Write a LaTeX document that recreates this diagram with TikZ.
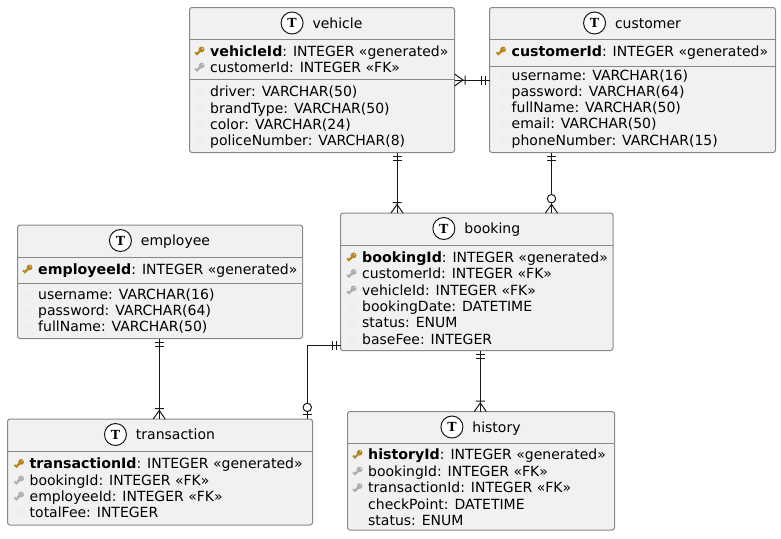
\documentclass[tikz,border=0pt]{standalone}
\usepackage{fontspec}
\setmainfont{DejaVu Sans}
\newfontfamily\tfont{DejaVu Serif}
\usetikzlibrary{arrows.meta,positioning,calc}
\definecolor{entfill}{HTML}{F1F1F1}
\definecolor{entedge}{HTML}{888888}
\definecolor{relink}{HTML}{181818}
\definecolor{keygold}{HTML}{B8861B}
\definecolor{keygray}{HTML}{ADADAD}
\definecolor{dotfaint}{HTML}{EEEEEE}
\tikzset{
  ent/.style={draw=entedge, fill=entfill, rounded corners=2.5pt, line width=1pt,
    anchor=north west, inner sep=0pt, outer sep=0pt},
  entline/.style={draw=entedge, line width=1pt},
  hdr/.style={anchor=base, inner sep=0pt, font=\fontsize{14}{16}\selectfont, text=black},
  tcirc/.style={circle, draw=relink, fill=white, line width=1pt, minimum size=22pt,
    inner sep=0pt, font=\tfont\bfseries\fontsize{12.5}{13}\selectfont},
  fld/.style={anchor=base west, inner sep=0pt, font=\fontsize{14}{16}\selectfont, text=black},
  rel/.style={draw=relink, line width=1pt},
  pkey/.pic={\fill[keygold, rotate=45] (0,-1.1) rectangle (-5.4,1.1) (-5.4,1.1) rectangle (-3.6,-2.6);
    \fill[keygold] (1.6,-1.6) circle (2.9);
    \fill[entfill] (2.6,-2.6) circle (0.6);},
  fkey/.pic={\fill[keygray, rotate=45] (0,-1.1) rectangle (-5.4,1.1) (-5.4,1.1) rectangle (-3.6,-2.6);
    \fill[keygray] (1.6,-1.6) circle (2.9);
    \fill[entfill] (2.6,-2.6) circle (0.6);},
  nkey/.pic={\fill[dotfaint] (0,0) circle (3);},
  onlyone/.pic={\draw[rel] (4,-4.5) -- (4,4.5) (8,-4.5) -- (8,4.5);},
  onemany/.pic={\draw[rel] (0,-6) -- (8.5,0) -- (0,6) (10.5,-4.5) -- (10.5,4.5);},
  zeromany/.pic={\draw[rel] (0,-6) -- (8.7,0) -- (0,6);
    \draw[rel, fill=white] (14.3,0) circle (4.2);},
  zeroone/.pic={\draw[rel] (4.5,-4.5) -- (4.5,4.5);
    \draw[rel, fill=white] (11.6,0) circle (4.2);}
}
\newcommand{\pk}[1]{{\bfseries\fontsize{14.2}{16}\selectfont #1}}
\newcommand{\entbox}[6]{
  \node[ent, minimum width=#4pt, minimum height=#5pt] (#1) at (#2,#3) {};
  \draw[entline] ([yshift=-32pt]#1.north west) -- ([yshift=-32pt]#1.north east);
  \node[hdr] (#1-title) at ([xshift=15.5pt,yshift=-20.5pt]#1.north) {#6};
  \node[tcirc] (#1-badge) at ([xshift=-20.3pt,yshift=-15.5pt]#1.north -| #1-title.west) {T};
}
\newcommand{\entrows}[3]{
  \foreach \ry/\ic/\txt [count=\i] in {#3}{
    \pic at (#2-10,\ry-5) {\ic};
    \node[fld] (#1-\i) at (#2,\ry) {\txt};
  }
}

\begin{document}
\begin{tikzpicture}[x=1pt, y=-1pt]
  \useasboundingbox (0,0) rectangle (781,538);
  \entbox{vehicle}{189.5}{7.5}{265}{145}{vehicle}
  \entbox{customer}{489.5}{7.5}{286}{145}{customer}
  \entbox{employee}{17.5}{225}{285}{113.5}{employee}
  \entbox{booking}{340.5}{213}{272.5}{137.5}{booking}
  \entbox{transaction}{7.5}{419}{305}{106}{transaction}
  \entbox{history}{347.5}{411.5}{267}{118.5}{history}
  % second rule under the keys
  \draw[entline] ([yshift=-72pt]vehicle.north west) -- ([yshift=-72pt]vehicle.north east);
  \draw[entline] ([yshift=-58.5pt]customer.north west) -- ([yshift=-58.5pt]customer.north east);
  \draw[entline] ([yshift=-58.5pt]employee.north west) -- ([yshift=-58.5pt]employee.north east);

  \entrows{vehicle}{210}{56/pkey/{\pk{vehicleId}: INTEGER «generated»},
    72.2/fkey/{customerId: INTEGER «FK»},
    96.7/nkey/{driver: VARCHAR(50)},
    113/nkey/{brandType: VARCHAR(50)},
    129/nkey/{color: VARCHAR(24)},
    145.3/nkey/{policeNumber: VARCHAR(8)}}
  \entrows{customer}{511.5}{56/pkey/{\pk{customerId}: INTEGER «generated»},
    80/nkey/{username: VARCHAR(16)},
    96.3/nkey/{password: VARCHAR(64)},
    112.5/nkey/{fullName: VARCHAR(50)},
    128.8/nkey/{email: VARCHAR(50)},
    145/nkey/{phoneNumber: VARCHAR(15)}}
  \entrows{employee}{38}{274/pkey/{\pk{employeeId}: INTEGER «generated»},
    299.5/nkey/{username: VARCHAR(16)},
    315.5/nkey/{password: VARCHAR(64)},
    331.7/nkey/{fullName: VARCHAR(50)}}
  \entrows{booking}{362}{262/pkey/{\pk{bookingId}: INTEGER «generated»},
    278.5/fkey/{customerId: INTEGER «FK»},
    295/fkey/{vehicleId: INTEGER «FK»},
    311/nkey/{bookingDate: DATETIME},
    327.5/nkey/{status: ENUM},
    344/nkey/{baseFee: INTEGER}}
  \entrows{transaction}{29.5}{468.5/pkey/{\pk{transactionId}: INTEGER «generated»},
    485/fkey/{bookingId: INTEGER «FK»},
    501/fkey/{employeeId: INTEGER «FK»},
    517/nkey/{totalFee: INTEGER}}
  \entrows{history}{368}{459.3/pkey/{\pk{historyId}: INTEGER «generated»},
    476/fkey/{bookingId: INTEGER «FK»},
    492.7/fkey/{transactionId: INTEGER «FK»},
    509/nkey/{checkPoint: DATETIME},
    525/nkey/{status: ENUM}}

  % relations
  \draw[rel] (vehicle.east) -- (customer.west);
  \pic[rotate=0] at (vehicle.east) {onemany};
  \pic[rotate=180] at (customer.west) {onlyone};
  \draw[rel] ([xshift=75pt]vehicle.south) -- ([xshift=75pt]vehicle.south |- booking.north);
  \pic[rotate=-90] at ([xshift=75pt]vehicle.south) {onlyone};
  \pic[rotate=90] at ([xshift=75pt]vehicle.south |- booking.north) {onemany};
  \draw[rel] ([xshift=-81pt]customer.south) -- ([xshift=-81pt]customer.south |- booking.north);
  \pic[rotate=-90] at ([xshift=-81pt]customer.south) {onlyone};
  \pic[rotate=90] at ([xshift=-81pt]customer.south |- booking.north) {zeromany};
  \draw[rel] ([xshift=-0.7pt]employee.south) -- ([xshift=-0.7pt]transaction.north);
  \pic[rotate=-90] at ([xshift=-0.7pt]employee.south) {onlyone};
  \pic[rotate=90] at ([xshift=-0.7pt]transaction.north) {onemany};
  \draw[rel] ([xshift=-0.7pt]booking.south -| history.north) -- ([xshift=-0.7pt]history.north);
  \pic[rotate=-90] at ([xshift=-0.7pt]booking.south -| history.north) {onlyone};
  \pic[rotate=90] at ([xshift=-0.7pt]history.north) {onemany};
  \draw[rel] ([yshift=-63.5pt]booking.west) -| ([xshift=147.3pt]transaction.north);
  \pic[rotate=180] at ([yshift=-63.5pt]booking.west) {onlyone};
  \pic[rotate=90] at ([xshift=147.3pt]transaction.north) {zeroone};
\end{tikzpicture}
\end{document}
